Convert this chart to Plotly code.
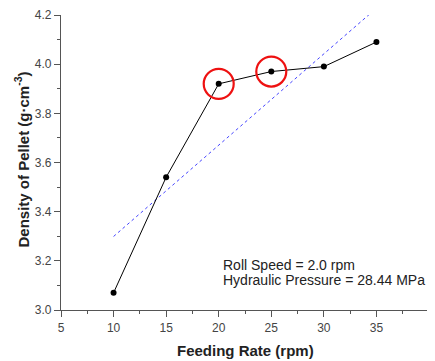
import numpy as np
import plotly.graph_objects as go

feeding_rate = [10, 15, 20, 25, 30, 35]
density = [3.07, 3.54, 3.92, 3.97, 3.99, 4.09]
highlight_x = [20, 25]
highlight_y = [3.92, 3.97]
x_ticks = [5, 10, 15, 20, 25, 30, 35, 40]
y_ticks = [3.0, 3.2, 3.4, 3.6, 3.8, 4.0, 4.2]
note_lines = ["Roll Speed = 2.0 rpm", "Hydraulic Pressure = 28.44 MPa"]

slope, intercept = np.polyfit(feeding_rate, density, 1)
fit_x = [feeding_rate[0], feeding_rate[-1]]
fit_y = [slope * v + intercept for v in fit_x]

FONT = "Arial, Liberation Sans, sans-serif"

fig = go.Figure()
fig.add_trace(go.Scatter(x=fit_x, y=fit_y, mode="lines",
                         line=dict(color="#4444ff", width=1, dash="3px,3px")))
fig.add_trace(go.Scatter(x=feeding_rate, y=density, mode="lines+markers",
                         line=dict(color="black", width=1),
                         marker=dict(color="black", size=6)))
fig.add_trace(go.Scatter(x=highlight_x, y=highlight_y, mode="markers",
                         marker=dict(symbol="circle-open", size=30, color="#ee1111",
                                     line=dict(color="#ee1111", width=2.2))))

axis_common = dict(showline=True, linecolor="#555", linewidth=1.2,
                   ticks="outside", ticklen=6, tickcolor="#555",
                   showgrid=False, zeroline=False, mirror=False, automargin=False,
                   tickfont=dict(family=FONT, size=12, color="#444"))

annotations = [
    dict(xref="paper", yref="paper", x=0.5, y=-0.1356, xanchor="center", yanchor="middle",
         text="<b>Feeding Rate (rpm)</b>", showarrow=False,
         font=dict(family=FONT, size=15, color="#222")),
    dict(xref="paper", yref="paper", x=-0.106, y=0.51, xanchor="center", yanchor="middle",
         text="<b>Density of Pellet (g·cm<sup>-3</sup>)</b>", showarrow=False, textangle=-90,
         font=dict(family=FONT, size=15, color="#222")),
]
for line, yv in zip(note_lines, [3.184, 3.123]):
    annotations.append(dict(xref="x", yref="y", x=20.25, y=yv, xanchor="left", yanchor="middle",
                            text=line, align="left", showarrow=False,
                            font=dict(family=FONT, size=14, color="#222")))

fig.update_layout(
    width=427, height=353,
    margin=dict(l=53, r=6, t=7, b=51),
    paper_bgcolor="white", plot_bgcolor="white",
    showlegend=False,
    xaxis=dict(range=[5, 40], tickvals=x_ticks,
               minor=dict(ticks="outside", ticklen=3, dtick=2.5, tickcolor="#555"),
               **axis_common),
    yaxis=dict(range=[3.0, 4.2], tickvals=y_ticks, tickformat=".1f",
               minor=dict(ticks="outside", ticklen=3, dtick=0.1, tickcolor="#555"),
               **axis_common),
    annotations=annotations,
)

fig.write_html("out.html")
